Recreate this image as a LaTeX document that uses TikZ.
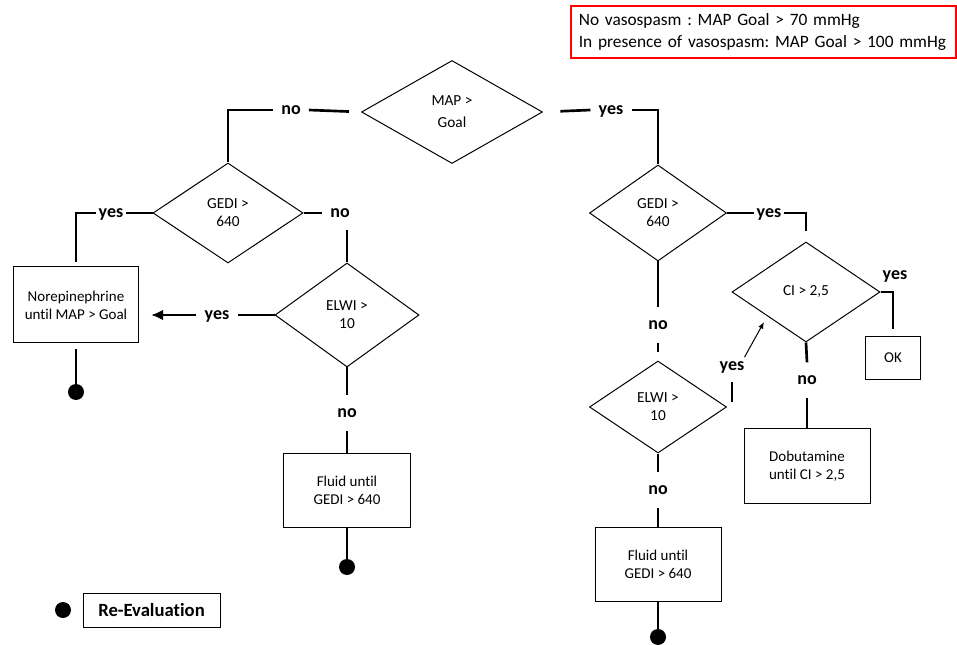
\documentclass[tikz,border=0pt]{standalone}
\usepackage{fontspec}
\setmainfont{Carlito}[Ligatures=NoCommon]
\frenchspacing
\usetikzlibrary{arrows.meta,shapes.geometric,calc}
\tikzset{
  flline/.style={line width=2pt},
  flarr/.style={-{Latex[length=9pt,width=8pt]},line width=2pt},
  thinarr/.style={-{Latex[length=5pt,width=4pt]},line width=0.75pt},
  dec/.style={diamond,draw=black,line width=0.75pt,align=center,inner sep=0pt,
              font=\fontsize{11.5}{13.5}\selectfont},
  block/.style={draw=black,line width=0.75pt,align=center,inner sep=2pt,
                font=\fontsize{11.25}{13.5}\selectfont},
  lbl/.style={font=\fontsize{13.5}{16}\selectfont\bfseries,inner xsep=6pt,inner ysep=0pt,
              text height=10pt,text depth=3pt},
  vlbl/.style={lbl,minimum height=26pt},
  dotnode/.style={circle,fill=black,inner sep=0pt,minimum size=12pt}
}

\begin{document}
\begin{tikzpicture}[x=0.75pt,y=-0.75pt]
\useasboundingbox (0,0) rectangle (957,645);

% target values
\node[draw=red,line width=1.2pt,anchor=north west,minimum height=39pt,inner xsep=6pt,
      text width=277pt,align=left,font=\fontsize{13}{16.5}\selectfont] (note) at (570,5)
     {No vasospasm : MAP Goal > 70 mmHg\\In presence of vasospasm: MAP Goal > 100 mmHg};

% decisions
\node[dec,minimum width=135.75pt,minimum height=77.25pt] (map)   at (452,112) {MAP >\\[3pt]Goal};
\node[dec,minimum width=112.5pt,minimum height=75pt]     (gedil) at (228,213) {GEDI >\\640};
\node[dec,minimum width=108pt,minimum height=78pt]       (elwil) at (347,315) {ELWI >\\10};
\node[dec,minimum width=102.75pt,minimum height=72pt]    (gedir) at (658,213) {GEDI >\\640};
\node[dec,minimum width=102.75pt,minimum height=69pt]    (elwir) at (658,407) {ELWI >\\10};
\node[dec,minimum width=111pt,minimum height=75pt]       (ci)    at (806,292) {CI > 2,5};

% actions
\node[block,minimum width=93.75pt,minimum height=57pt]   (norepi) at (76,305)  {Norepinephrine\\until MAP > Goal};
\node[block,minimum width=95.25pt,minimum height=55.5pt] (fluidl) at (347,490) {Fluid until\\GEDI > 640};
\node[block,minimum width=94.5pt,minimum height=55.5pt]  (fluidr) at (658,564) {Fluid until\\GEDI > 640};
\node[block,minimum width=94.5pt,minimum height=56.25pt] (dobut)  at (807,466) {Dobutamine\\until CI > 2,5};
\node[block,minimum width=41.25pt,minimum height=32.25pt] (ok)    at (893,358) {OK};

% answers
\node[lbl]                 (nomap)  at (291,110) {no};
\node[lbl]                 (yesmap) at (611,110) {yes};
\node[lbl,inner xsep=2pt]  (yesgl)  at (111,213) {yes};
\node[lbl]                 (nogl)   at (340,213) {no};
\node[lbl]                 (yesel)  at (217,315) {yes};
\node[vlbl]                (noel)   at (347,413) {no};
\node[lbl,inner xsep=2pt]  (yesgr)  at (769,213) {yes};
\node[lbl]                 (yesci)  at (895,275) {yes};
\node[vlbl]                (noci)   at (807,380) {no};
\node[vlbl]                (nogr)   at (658,325) {no};
\node[lbl,inner xsep=0pt]  (yeser)  at (732,366) {yes};
\node[vlbl]                (noer)   at (658,490) {no};

% re-evaluation points
\node[dotnode] (endl) at (76,392) {};
\node[dotnode] (endm) at (347,567) {};
\node[dotnode] (endr) at (658,637) {};

% legend
\node[dotnode] (keydot) at (63,610) {};
\node[block,minimum width=102.75pt,minimum height=25.5pt,
      font=\fontsize{14}{17}\selectfont\bfseries] (keybox) at (151.5,610) {Re-Evaluation};

% left branch
\draw[flline,shorten <=9pt] (map.west) -- (nomap.east);
\draw[flline] (nomap.west) -| (gedil.north);
\draw[flline] (gedil.west) -- (yesgl.east);
\draw[flline,shorten >=3pt] (yesgl.west) -| (norepi.north);
\draw[flline,shorten <=4pt] (norepi.south) -- (endl);
\draw[flline] (gedil.east) -- (nogl.west);
\draw[flline,shorten <=6pt] (nogl.south -| elwil.north) -- (elwil.north);
\draw[flline] (elwil.west) -- (yesel.east);
\draw[flarr,shorten >=9pt] (yesel.west) -- (yesel.west -| norepi.east);
\draw[flline] (elwil.south) -- (noel.north);
\draw[flline] (noel.south) -- (fluidl.north);
\draw[flline] (fluidl.south) -- (endm);

% right branch
\draw[flline,shorten <=13pt] (map.east) -- (yesmap.west);
\draw[flline] (yesmap.east) -| (gedir.north);
\draw[flline] (gedir.east) -- (yesgr.west);
\draw[flline,shorten >=7.5pt] (yesgr.east) -| (ci.north);
\draw[flline,shorten >=5pt] (ci.east) -| (ok.north);
\draw[flline] (ci.south) -- (noci.north);
\draw[flline] (noci.south) -- (dobut.north);
\draw[flline] (gedir.south) -- (nogr.north);
\draw[flline,shorten >=6pt] (nogr.south) -- (elwir.north);
\draw[flline,shorten >=5pt] ($(elwir.east)+(5,-5)$) -- (yeser.south);
\draw[thinarr,shorten >=5pt] (yeser.north east) -- (ci.212);
\draw[flline] (elwir.south) -- (noer.north);
\draw[flline] (noer.south) -- (fluidr.north);
\draw[flline] (fluidr.south) -- (endr);
\end{tikzpicture}
\end{document}
